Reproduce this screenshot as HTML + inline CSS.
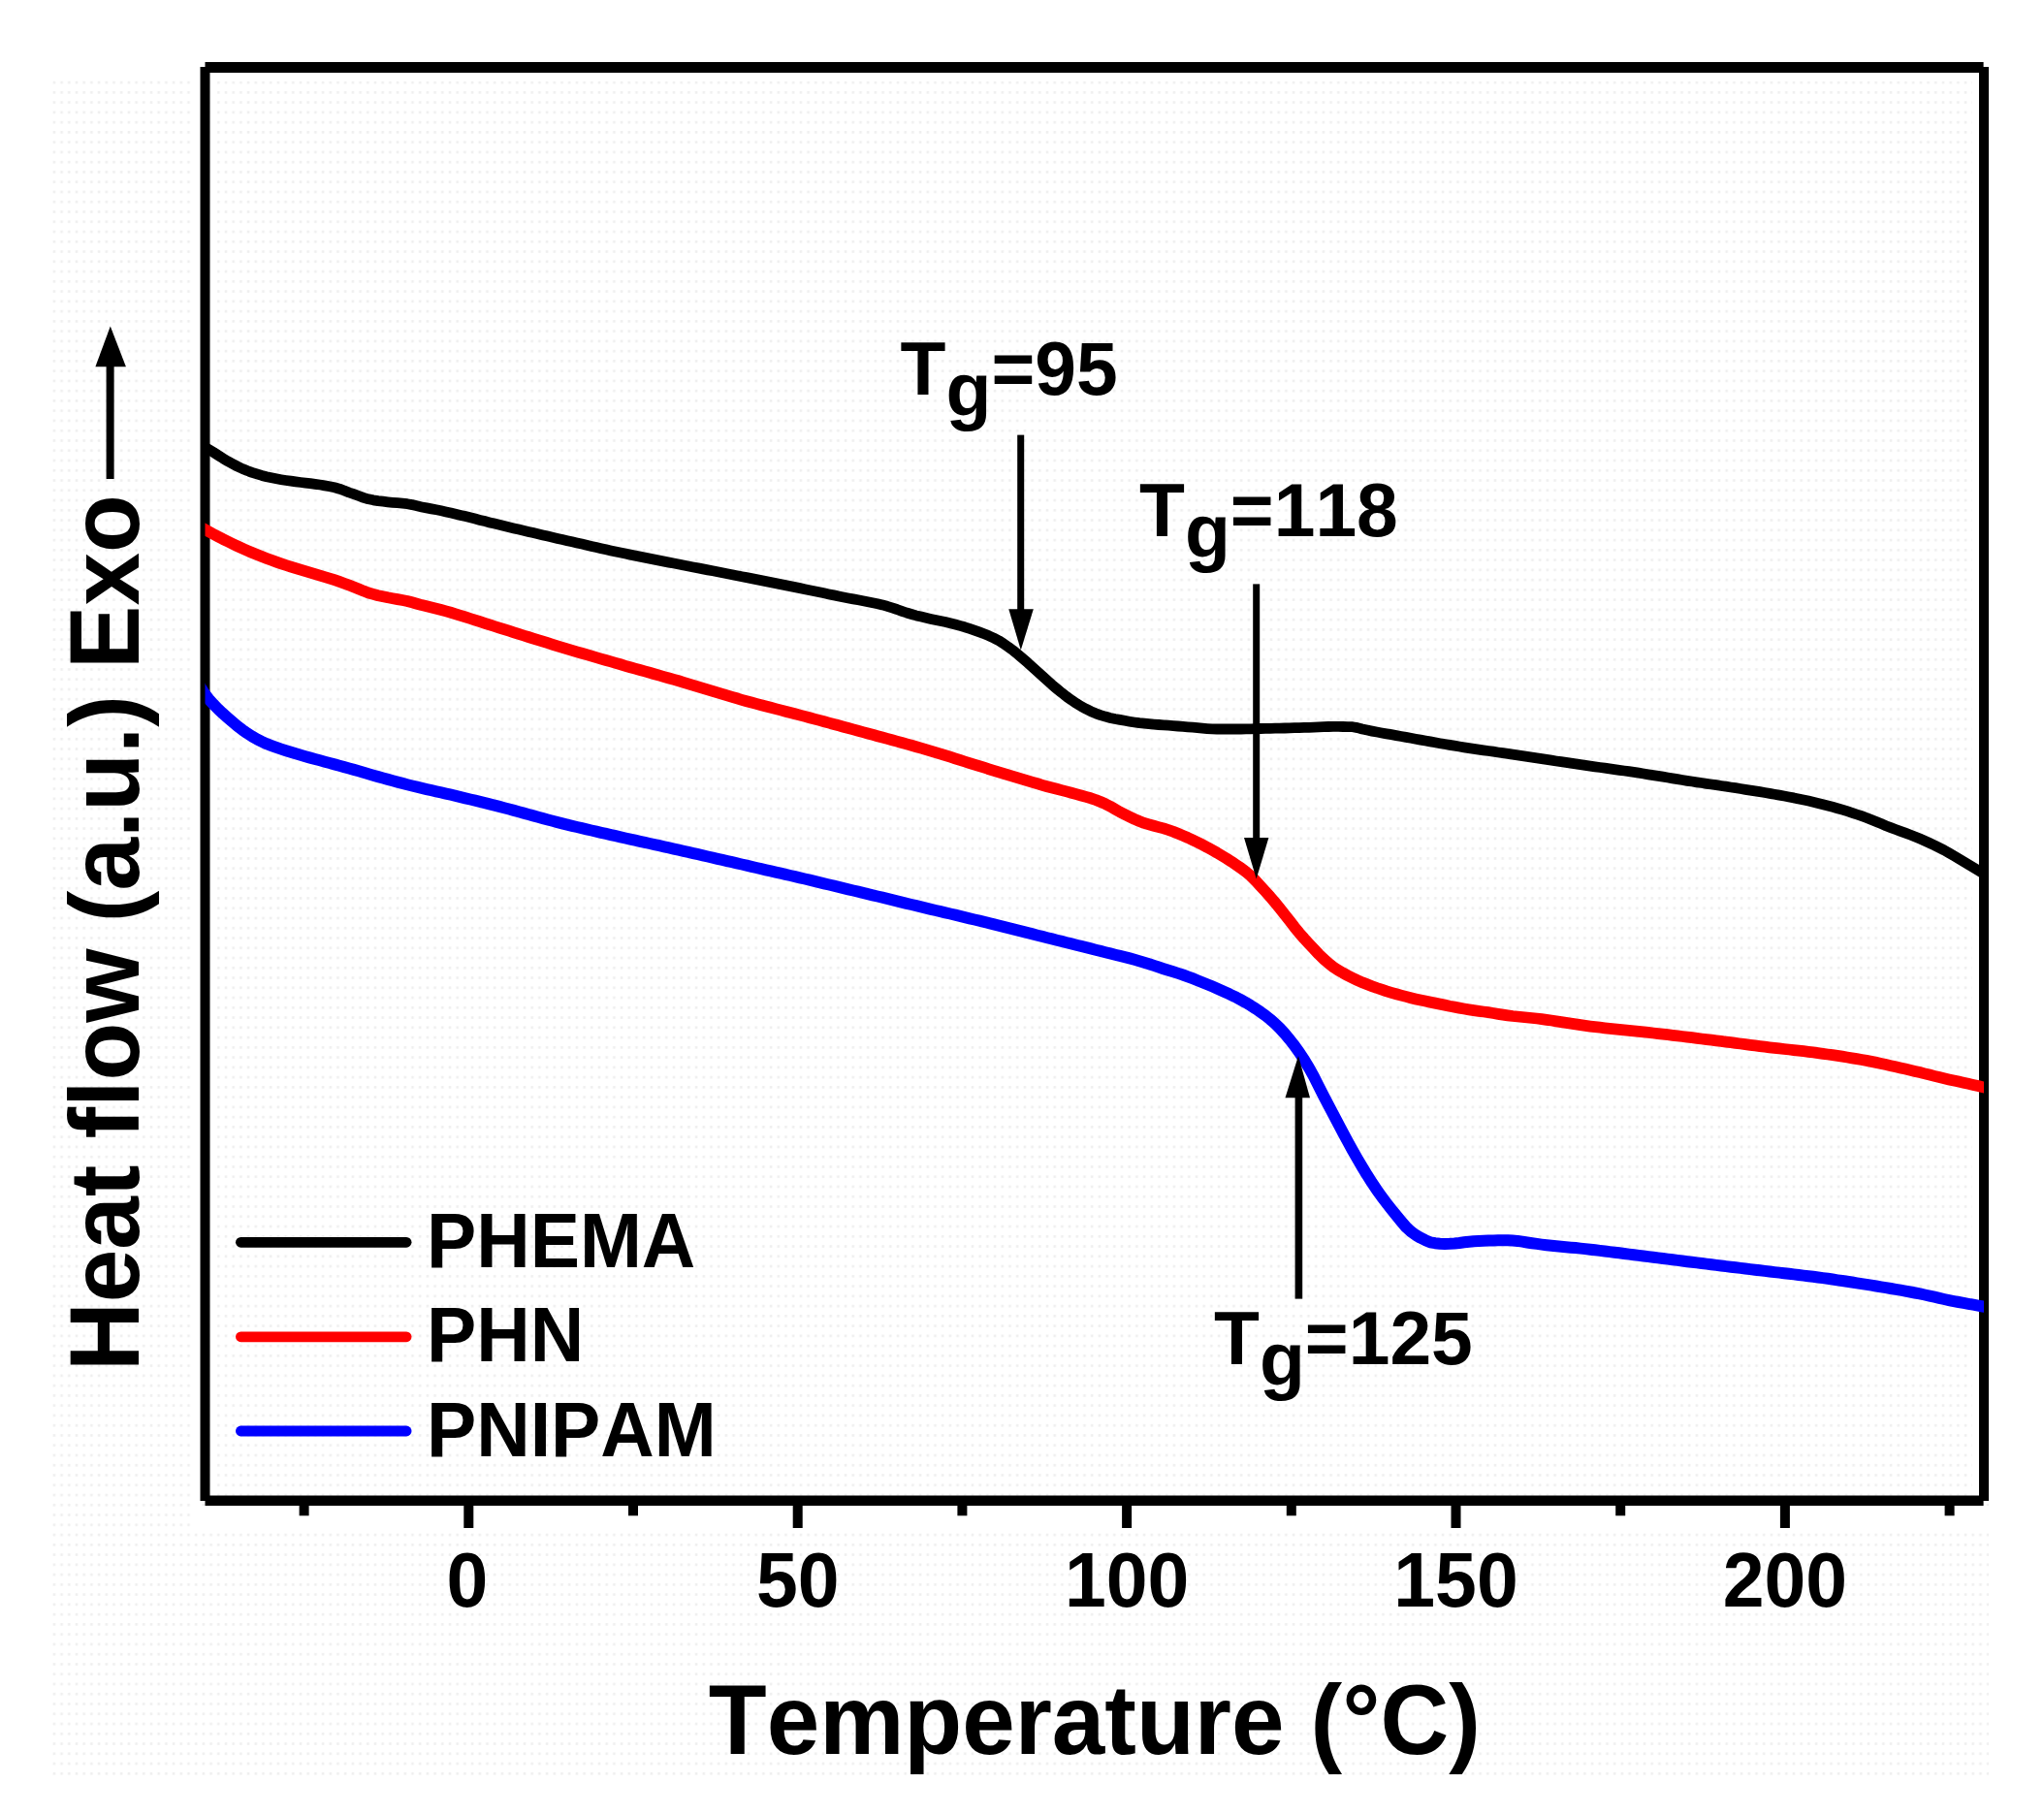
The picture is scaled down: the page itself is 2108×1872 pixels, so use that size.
<!DOCTYPE html>
<html lang="en"><head><meta charset="utf-8"><title>DSC curves</title>
<style>html,body{margin:0;padding:0;background:#fff;overflow:hidden;}svg{display:block;}text{font-family:"Liberation Sans",sans-serif;font-weight:bold;fill:#000;font-kerning:none;}</style></head><body>
<svg width="2108" height="1872" viewBox="0 0 2108 1872">
<rect x="0" y="0" width="2108" height="1872" fill="#ffffff"/>
<defs><pattern id="dither" x="52" y="80" width="7.7" height="10.26" patternUnits="userSpaceOnUse"><rect x="2.6" y="3.8" width="2.6" height="2.6" fill="#efefef"/></pattern></defs>
<rect x="52" y="77" width="1999" height="1756" fill="url(#dither)"/>
<rect x="216.5" y="75" width="1824.5" height="9" fill="#fff"/>
<rect x="216.5" y="75" width="7" height="1467.5" fill="#fff"/>
<rect x="2034" y="75" width="7" height="1467.5" fill="#fff"/>
<rect x="199.5" y="77" width="7" height="1476" fill="#fff"/>
<rect x="200" y="1553" width="1851" height="24" fill="#fff"/>
<g fill="#000">
<rect x="211.5" y="64" width="1834.1" height="11"/>
<rect x="211.5" y="1542.5" width="1834.1" height="10.5"/>
<rect x="206.5" y="69" width="10.0" height="1479"/>
<rect x="2041" y="69" width="10" height="1479"/>
<rect x="478.3" y="1552" width="10" height="24"/>
<rect x="817.7" y="1552" width="10" height="24"/>
<rect x="1157.1" y="1552" width="10" height="24"/>
<rect x="1496.5" y="1552" width="10" height="24"/>
<rect x="1835.9" y="1552" width="10" height="24"/>
<rect x="308.6" y="1552" width="10" height="11.3"/>
<rect x="648.0" y="1552" width="10" height="11.3"/>
<rect x="987.4" y="1552" width="10" height="11.3"/>
<rect x="1326.8" y="1552" width="10" height="11.3"/>
<rect x="1666.2" y="1552" width="10" height="11.3"/>
<rect x="2005.6" y="1552" width="10" height="11.3"/>
</g>
<defs><clipPath id="plot"><rect x="211.5" y="70" width="1834.5" height="1478"/></clipPath></defs>
<g clip-path="url(#plot)" fill="none" stroke-linejoin="round" stroke-linecap="butt">
<path stroke="#000000" stroke-width="10.8" d="M205.0 457.5 L210.0 460.4 L215.0 463.4 L220.0 466.4 L225.0 469.6 L230.0 472.8 L235.0 475.8 L240.0 478.5 L245.0 481.1 L250.0 483.5 L255.0 485.5 L260.0 487.3 L265.0 488.9 L270.0 490.4 L275.0 491.7 L280.0 492.8 L285.0 493.8 L290.0 494.7 L295.0 495.5 L300.0 496.2 L305.0 496.9 L310.0 497.5 L315.0 498.1 L320.0 498.6 L325.0 499.3 L330.0 500.0 L335.0 500.8 L340.0 501.7 L345.0 502.8 L350.0 504.2 L355.0 506.0 L360.0 508.0 L365.0 509.7 L370.0 511.5 L375.0 513.3 L380.0 514.8 L385.0 515.8 L390.0 516.6 L395.0 517.2 L400.0 517.8 L405.0 518.3 L410.0 518.7 L415.0 519.2 L420.0 519.7 L425.0 520.6 L430.0 521.8 L435.0 522.9 L440.0 523.9 L445.0 524.9 L450.0 525.8 L455.0 526.8 L460.0 527.9 L465.0 529.0 L470.0 530.2 L475.0 531.4 L480.0 532.6 L485.0 533.8 L490.0 535.1 L495.0 536.4 L500.0 537.6 L505.0 538.9 L510.0 540.1 L515.0 541.3 L520.0 542.5 L525.0 543.7 L530.0 544.9 L535.0 546.1 L540.0 547.2 L545.0 548.4 L550.0 549.6 L555.0 550.7 L560.0 551.9 L565.0 553.1 L570.0 554.2 L575.0 555.4 L580.0 556.5 L585.0 557.7 L590.0 558.8 L595.0 560.0 L600.0 561.1 L605.0 562.3 L610.0 563.4 L615.0 564.5 L620.0 565.7 L625.0 566.8 L630.0 567.9 L635.0 569.0 L640.0 570.0 L645.0 571.1 L650.0 572.1 L655.0 573.1 L660.0 574.1 L665.0 575.1 L670.0 576.1 L675.0 577.1 L680.0 578.1 L685.0 579.1 L690.0 580.1 L695.0 581.0 L700.0 582.0 L705.0 583.0 L710.0 584.0 L715.0 585.0 L720.0 585.9 L725.0 586.9 L730.0 587.9 L735.0 588.8 L740.0 589.8 L745.0 590.8 L750.0 591.7 L755.0 592.7 L760.0 593.7 L765.0 594.7 L770.0 595.6 L775.0 596.6 L780.0 597.6 L785.0 598.6 L790.0 599.6 L795.0 600.6 L800.0 601.6 L805.0 602.6 L810.0 603.6 L815.0 604.6 L820.0 605.6 L825.0 606.6 L830.0 607.7 L835.0 608.7 L840.0 609.7 L845.0 610.8 L850.0 611.8 L855.0 612.9 L860.0 613.9 L865.0 615.0 L870.0 616.0 L875.0 617.0 L880.0 617.9 L885.0 618.8 L890.0 619.7 L895.0 620.7 L900.0 621.7 L905.0 622.7 L910.0 623.9 L915.0 625.3 L920.0 626.9 L925.0 628.5 L930.0 630.3 L935.0 632.0 L940.0 633.5 L945.0 634.9 L950.0 636.1 L955.0 637.3 L960.0 638.4 L965.0 639.5 L970.0 640.5 L975.0 641.5 L980.0 642.7 L985.0 644.0 L990.0 645.4 L995.0 646.8 L1000.0 648.4 L1005.0 650.1 L1010.0 651.9 L1015.0 653.8 L1020.0 655.8 L1025.0 658.1 L1030.0 660.7 L1035.0 663.8 L1040.0 667.3 L1045.0 671.0 L1050.0 675.1 L1055.0 679.4 L1060.0 683.7 L1065.0 688.2 L1070.0 692.7 L1075.0 697.3 L1080.0 701.8 L1085.0 706.3 L1090.0 710.5 L1095.0 714.6 L1100.0 718.5 L1105.0 722.1 L1110.0 725.4 L1115.0 728.5 L1120.0 731.2 L1125.0 733.7 L1130.0 735.8 L1135.0 737.6 L1140.0 739.1 L1145.0 740.4 L1150.0 741.5 L1155.0 742.4 L1160.0 743.3 L1165.0 744.2 L1170.0 745.0 L1175.0 745.7 L1180.0 746.2 L1185.0 746.7 L1190.0 747.1 L1195.0 747.5 L1200.0 747.8 L1205.0 748.2 L1210.0 748.6 L1215.0 749.0 L1220.0 749.4 L1225.0 749.8 L1230.0 750.2 L1235.0 750.7 L1240.0 751.2 L1245.0 751.6 L1250.0 751.9 L1255.0 752.0 L1260.0 752.0 L1265.0 752.0 L1270.0 752.0 L1275.0 752.0 L1280.0 752.0 L1285.0 751.9 L1290.0 751.8 L1295.0 751.6 L1300.0 751.5 L1305.0 751.4 L1310.0 751.3 L1315.0 751.2 L1320.0 751.1 L1325.0 751.0 L1330.0 750.8 L1335.0 750.7 L1340.0 750.6 L1345.0 750.4 L1350.0 750.3 L1355.0 750.1 L1360.0 749.9 L1365.0 749.7 L1370.0 749.5 L1375.0 749.4 L1380.0 749.4 L1385.0 749.5 L1390.0 749.6 L1395.0 749.7 L1400.0 750.6 L1405.0 752.0 L1410.0 753.1 L1415.0 754.1 L1420.0 755.0 L1425.0 756.0 L1430.0 756.9 L1435.0 757.7 L1440.0 758.6 L1445.0 759.5 L1450.0 760.4 L1455.0 761.3 L1460.0 762.2 L1465.0 763.1 L1470.0 764.0 L1475.0 764.9 L1480.0 765.8 L1485.0 766.7 L1490.0 767.5 L1495.0 768.4 L1500.0 769.2 L1505.0 770.0 L1510.0 770.8 L1515.0 771.6 L1520.0 772.3 L1525.0 773.1 L1530.0 773.8 L1535.0 774.5 L1540.0 775.2 L1545.0 776.0 L1550.0 776.7 L1555.0 777.4 L1560.0 778.2 L1565.0 778.9 L1570.0 779.7 L1575.0 780.4 L1580.0 781.2 L1585.0 781.9 L1590.0 782.7 L1595.0 783.4 L1600.0 784.2 L1605.0 785.0 L1610.0 785.7 L1615.0 786.4 L1620.0 787.2 L1625.0 787.9 L1630.0 788.6 L1635.0 789.4 L1640.0 790.1 L1645.0 790.8 L1650.0 791.5 L1655.0 792.2 L1660.0 792.9 L1665.0 793.6 L1670.0 794.3 L1675.0 795.0 L1680.0 795.7 L1685.0 796.4 L1690.0 797.2 L1695.0 798.0 L1700.0 798.8 L1705.0 799.6 L1710.0 800.4 L1715.0 801.2 L1720.0 802.0 L1725.0 802.9 L1730.0 803.7 L1735.0 804.5 L1740.0 805.3 L1745.0 806.0 L1750.0 806.8 L1755.0 807.5 L1760.0 808.3 L1765.0 809.0 L1770.0 809.7 L1775.0 810.5 L1780.0 811.2 L1785.0 812.0 L1790.0 812.7 L1795.0 813.5 L1800.0 814.3 L1805.0 815.1 L1810.0 815.9 L1815.0 816.7 L1820.0 817.5 L1825.0 818.3 L1830.0 819.2 L1835.0 820.1 L1840.0 821.0 L1845.0 822.0 L1850.0 822.9 L1855.0 824.0 L1860.0 825.0 L1865.0 826.1 L1870.0 827.3 L1875.0 828.4 L1880.0 829.7 L1885.0 831.0 L1890.0 832.3 L1895.0 833.7 L1900.0 835.2 L1905.0 836.7 L1910.0 838.3 L1915.0 840.0 L1920.0 841.7 L1925.0 843.5 L1930.0 845.5 L1935.0 847.6 L1940.0 849.6 L1945.0 851.7 L1950.0 853.6 L1955.0 855.5 L1960.0 857.3 L1965.0 859.1 L1970.0 861.0 L1975.0 863.0 L1980.0 865.1 L1985.0 867.3 L1990.0 869.5 L1995.0 871.8 L2000.0 874.3 L2005.0 876.9 L2010.0 879.7 L2015.0 882.6 L2020.0 885.6 L2025.0 888.6 L2030.0 891.6 L2035.0 894.6 L2040.0 897.6 L2045.0 900.7 L2050.0 903.8 L2055.0 907.0"/>
<path stroke="#ff0000" stroke-width="11.8" d="M205.0 542.5 L210.0 545.4 L215.0 548.2 L220.0 550.9 L225.0 553.5 L230.0 556.1 L235.0 558.5 L240.0 561.0 L245.0 563.4 L250.0 565.7 L255.0 567.9 L260.0 570.0 L265.0 572.0 L270.0 574.0 L275.0 575.9 L280.0 577.8 L285.0 579.6 L290.0 581.3 L295.0 583.0 L300.0 584.6 L305.0 586.2 L310.0 587.7 L315.0 589.2 L320.0 590.7 L325.0 592.2 L330.0 593.7 L335.0 595.1 L340.0 596.6 L345.0 598.2 L350.0 599.9 L355.0 601.7 L360.0 603.6 L365.0 605.5 L370.0 607.5 L375.0 609.6 L380.0 611.5 L385.0 612.9 L390.0 614.2 L395.0 615.2 L400.0 616.3 L405.0 617.2 L410.0 618.1 L415.0 619.0 L420.0 620.0 L425.0 621.3 L430.0 622.7 L435.0 624.1 L440.0 625.3 L445.0 626.5 L450.0 627.7 L455.0 629.0 L460.0 630.4 L465.0 631.8 L470.0 633.3 L475.0 634.8 L480.0 636.4 L485.0 638.0 L490.0 639.6 L495.0 641.2 L500.0 642.8 L505.0 644.4 L510.0 646.0 L515.0 647.6 L520.0 649.2 L525.0 650.7 L530.0 652.3 L535.0 653.9 L540.0 655.5 L545.0 657.0 L550.0 658.6 L555.0 660.1 L560.0 661.7 L565.0 663.2 L570.0 664.8 L575.0 666.3 L580.0 667.8 L585.0 669.3 L590.0 670.8 L595.0 672.3 L600.0 673.7 L605.0 675.2 L610.0 676.7 L615.0 678.1 L620.0 679.6 L625.0 681.0 L630.0 682.4 L635.0 683.9 L640.0 685.3 L645.0 686.8 L650.0 688.2 L655.0 689.6 L660.0 691.0 L665.0 692.4 L670.0 693.8 L675.0 695.2 L680.0 696.6 L685.0 698.1 L690.0 699.5 L695.0 700.9 L700.0 702.3 L705.0 703.8 L710.0 705.3 L715.0 706.8 L720.0 708.3 L725.0 709.8 L730.0 711.3 L735.0 712.9 L740.0 714.4 L745.0 715.9 L750.0 717.4 L755.0 718.9 L760.0 720.3 L765.0 721.8 L770.0 723.2 L775.0 724.5 L780.0 725.9 L785.0 727.2 L790.0 728.5 L795.0 729.8 L800.0 731.1 L805.0 732.4 L810.0 733.7 L815.0 735.0 L820.0 736.3 L825.0 737.6 L830.0 738.9 L835.0 740.3 L840.0 741.6 L845.0 742.9 L850.0 744.3 L855.0 745.6 L860.0 747.0 L865.0 748.3 L870.0 749.7 L875.0 751.0 L880.0 752.4 L885.0 753.7 L890.0 755.1 L895.0 756.5 L900.0 757.8 L905.0 759.2 L910.0 760.5 L915.0 761.9 L920.0 763.3 L925.0 764.6 L930.0 766.0 L935.0 767.4 L940.0 768.8 L945.0 770.2 L950.0 771.6 L955.0 773.1 L960.0 774.6 L965.0 776.1 L970.0 777.6 L975.0 779.2 L980.0 780.7 L985.0 782.3 L990.0 783.9 L995.0 785.5 L1000.0 787.1 L1005.0 788.6 L1010.0 790.2 L1015.0 791.7 L1020.0 793.3 L1025.0 794.8 L1030.0 796.3 L1035.0 797.9 L1040.0 799.4 L1045.0 800.9 L1050.0 802.4 L1055.0 803.9 L1060.0 805.4 L1065.0 806.9 L1070.0 808.3 L1075.0 809.8 L1080.0 811.2 L1085.0 812.5 L1090.0 813.8 L1095.0 815.1 L1100.0 816.4 L1105.0 817.7 L1110.0 819.1 L1115.0 820.5 L1120.0 821.9 L1125.0 823.3 L1130.0 825.0 L1135.0 827.0 L1140.0 829.2 L1145.0 831.7 L1150.0 834.6 L1155.0 837.5 L1160.0 840.0 L1165.0 842.5 L1170.0 844.9 L1175.0 847.0 L1180.0 848.9 L1185.0 850.4 L1190.0 851.8 L1195.0 853.1 L1200.0 854.4 L1205.0 856.0 L1210.0 857.8 L1215.0 859.8 L1220.0 861.9 L1225.0 864.0 L1230.0 866.3 L1235.0 868.7 L1240.0 871.3 L1245.0 873.9 L1250.0 876.7 L1255.0 879.5 L1260.0 882.5 L1265.0 885.5 L1270.0 888.7 L1275.0 892.1 L1280.0 895.5 L1285.0 899.3 L1290.0 903.5 L1295.0 908.5 L1300.0 913.9 L1305.0 919.4 L1310.0 925.0 L1315.0 930.9 L1320.0 937.0 L1325.0 943.3 L1330.0 949.7 L1335.0 956.2 L1340.0 962.3 L1345.0 968.0 L1350.0 973.4 L1355.0 978.8 L1360.0 984.1 L1365.0 989.0 L1370.0 993.4 L1375.0 997.3 L1380.0 1000.6 L1385.0 1003.5 L1390.0 1006.2 L1395.0 1008.7 L1400.0 1011.1 L1405.0 1013.3 L1410.0 1015.3 L1415.0 1017.2 L1420.0 1019.0 L1425.0 1020.6 L1430.0 1022.3 L1435.0 1023.8 L1440.0 1025.2 L1445.0 1026.6 L1450.0 1027.9 L1455.0 1029.2 L1460.0 1030.4 L1465.0 1031.5 L1470.0 1032.6 L1475.0 1033.6 L1480.0 1034.6 L1485.0 1035.6 L1490.0 1036.6 L1495.0 1037.7 L1500.0 1038.6 L1505.0 1039.6 L1510.0 1040.5 L1515.0 1041.3 L1520.0 1042.1 L1525.0 1042.8 L1530.0 1043.5 L1535.0 1044.2 L1540.0 1045.0 L1545.0 1045.8 L1550.0 1046.6 L1555.0 1047.3 L1560.0 1048.0 L1565.0 1048.5 L1570.0 1049.0 L1575.0 1049.5 L1580.0 1050.0 L1585.0 1050.5 L1590.0 1051.1 L1595.0 1051.8 L1600.0 1052.5 L1605.0 1053.3 L1610.0 1054.1 L1615.0 1054.9 L1620.0 1055.6 L1625.0 1056.4 L1630.0 1057.2 L1635.0 1057.9 L1640.0 1058.6 L1645.0 1059.2 L1650.0 1059.7 L1655.0 1060.3 L1660.0 1060.8 L1665.0 1061.3 L1670.0 1061.9 L1675.0 1062.4 L1680.0 1062.9 L1685.0 1063.4 L1690.0 1063.9 L1695.0 1064.4 L1700.0 1064.9 L1705.0 1065.5 L1710.0 1066.1 L1715.0 1066.7 L1720.0 1067.2 L1725.0 1067.8 L1730.0 1068.4 L1735.0 1069.0 L1740.0 1069.6 L1745.0 1070.2 L1750.0 1070.8 L1755.0 1071.5 L1760.0 1072.1 L1765.0 1072.7 L1770.0 1073.3 L1775.0 1073.9 L1780.0 1074.6 L1785.0 1075.2 L1790.0 1075.9 L1795.0 1076.5 L1800.0 1077.2 L1805.0 1077.8 L1810.0 1078.4 L1815.0 1079.1 L1820.0 1079.7 L1825.0 1080.3 L1830.0 1080.9 L1835.0 1081.4 L1840.0 1082.0 L1845.0 1082.5 L1850.0 1083.1 L1855.0 1083.6 L1860.0 1084.2 L1865.0 1084.8 L1870.0 1085.4 L1875.0 1086.1 L1880.0 1086.8 L1885.0 1087.5 L1890.0 1088.2 L1895.0 1088.9 L1900.0 1089.7 L1905.0 1090.5 L1910.0 1091.3 L1915.0 1092.1 L1920.0 1093.0 L1925.0 1093.9 L1930.0 1094.9 L1935.0 1095.9 L1940.0 1097.0 L1945.0 1098.1 L1950.0 1099.2 L1955.0 1100.3 L1960.0 1101.5 L1965.0 1102.6 L1970.0 1103.7 L1975.0 1104.9 L1980.0 1106.1 L1985.0 1107.4 L1990.0 1108.6 L1995.0 1109.9 L2000.0 1111.1 L2005.0 1112.2 L2010.0 1113.4 L2015.0 1114.5 L2020.0 1115.6 L2025.0 1116.7 L2030.0 1117.8 L2035.0 1118.9 L2040.0 1120.1 L2045.0 1121.3 L2050.0 1122.5 L2055.0 1123.7"/>
<path stroke="#0000ff" stroke-width="12" d="M205.0 706.0 L210.0 714.1 L215.0 720.7 L220.0 726.3 L225.0 731.4 L230.0 736.1 L235.0 740.5 L240.0 744.8 L245.0 749.0 L250.0 752.8 L255.0 756.3 L260.0 759.5 L265.0 762.4 L270.0 764.9 L275.0 767.2 L280.0 769.1 L285.0 770.9 L290.0 772.6 L295.0 774.2 L300.0 775.8 L305.0 777.3 L310.0 778.7 L315.0 780.2 L320.0 781.6 L325.0 783.0 L330.0 784.3 L335.0 785.7 L340.0 787.0 L345.0 788.4 L350.0 789.8 L355.0 791.1 L360.0 792.5 L365.0 793.9 L370.0 795.3 L375.0 796.8 L380.0 798.2 L385.0 799.7 L390.0 801.1 L395.0 802.5 L400.0 803.9 L405.0 805.3 L410.0 806.6 L415.0 807.9 L420.0 809.2 L425.0 810.5 L430.0 811.7 L435.0 812.9 L440.0 814.1 L445.0 815.2 L450.0 816.3 L455.0 817.4 L460.0 818.6 L465.0 819.7 L470.0 820.9 L475.0 822.1 L480.0 823.3 L485.0 824.5 L490.0 825.7 L495.0 826.9 L500.0 828.1 L505.0 829.4 L510.0 830.6 L515.0 831.9 L520.0 833.2 L525.0 834.5 L530.0 835.9 L535.0 837.2 L540.0 838.6 L545.0 840.0 L550.0 841.4 L555.0 842.8 L560.0 844.1 L565.0 845.5 L570.0 846.8 L575.0 848.1 L580.0 849.4 L585.0 850.6 L590.0 851.8 L595.0 853.0 L600.0 854.2 L605.0 855.4 L610.0 856.5 L615.0 857.7 L620.0 858.8 L625.0 859.9 L630.0 861.1 L635.0 862.2 L640.0 863.3 L645.0 864.5 L650.0 865.6 L655.0 866.7 L660.0 867.8 L665.0 868.9 L670.0 870.0 L675.0 871.1 L680.0 872.2 L685.0 873.3 L690.0 874.4 L695.0 875.6 L700.0 876.7 L705.0 877.8 L710.0 878.9 L715.0 880.1 L720.0 881.2 L725.0 882.3 L730.0 883.5 L735.0 884.6 L740.0 885.8 L745.0 886.9 L750.0 888.1 L755.0 889.2 L760.0 890.4 L765.0 891.5 L770.0 892.7 L775.0 893.8 L780.0 895.0 L785.0 896.1 L790.0 897.3 L795.0 898.4 L800.0 899.6 L805.0 900.7 L810.0 901.9 L815.0 903.0 L820.0 904.2 L825.0 905.4 L830.0 906.5 L835.0 907.7 L840.0 908.9 L845.0 910.1 L850.0 911.3 L855.0 912.5 L860.0 913.7 L865.0 914.9 L870.0 916.1 L875.0 917.3 L880.0 918.5 L885.0 919.7 L890.0 920.9 L895.0 922.1 L900.0 923.3 L905.0 924.5 L910.0 925.7 L915.0 926.9 L920.0 928.1 L925.0 929.3 L930.0 930.6 L935.0 931.8 L940.0 933.0 L945.0 934.2 L950.0 935.4 L955.0 936.6 L960.0 937.8 L965.0 939.0 L970.0 940.2 L975.0 941.4 L980.0 942.5 L985.0 943.7 L990.0 944.9 L995.0 946.1 L1000.0 947.3 L1005.0 948.5 L1010.0 949.7 L1015.0 950.9 L1020.0 952.1 L1025.0 953.4 L1030.0 954.6 L1035.0 955.9 L1040.0 957.1 L1045.0 958.4 L1050.0 959.6 L1055.0 960.9 L1060.0 962.1 L1065.0 963.4 L1070.0 964.7 L1075.0 965.9 L1080.0 967.2 L1085.0 968.4 L1090.0 969.7 L1095.0 970.9 L1100.0 972.2 L1105.0 973.4 L1110.0 974.7 L1115.0 975.9 L1120.0 977.1 L1125.0 978.4 L1130.0 979.7 L1135.0 980.9 L1140.0 982.2 L1145.0 983.4 L1150.0 984.7 L1155.0 985.9 L1160.0 987.1 L1165.0 988.4 L1170.0 989.8 L1175.0 991.2 L1180.0 992.7 L1185.0 994.2 L1190.0 995.9 L1195.0 997.5 L1200.0 999.2 L1205.0 1000.8 L1210.0 1002.3 L1215.0 1003.9 L1220.0 1005.5 L1225.0 1007.3 L1230.0 1009.2 L1235.0 1011.2 L1240.0 1013.2 L1245.0 1015.2 L1250.0 1017.3 L1255.0 1019.5 L1260.0 1021.7 L1265.0 1023.9 L1270.0 1026.3 L1275.0 1028.7 L1280.0 1031.4 L1285.0 1034.2 L1290.0 1037.2 L1295.0 1040.4 L1300.0 1043.8 L1305.0 1047.4 L1310.0 1051.4 L1315.0 1055.7 L1320.0 1060.6 L1325.0 1066.1 L1330.0 1072.1 L1335.0 1078.5 L1340.0 1085.5 L1345.0 1093.1 L1350.0 1101.4 L1355.0 1110.4 L1360.0 1120.4 L1365.0 1130.2 L1370.0 1139.8 L1375.0 1149.3 L1380.0 1158.8 L1385.0 1168.3 L1390.0 1177.5 L1395.0 1186.6 L1400.0 1195.4 L1405.0 1203.9 L1410.0 1212.1 L1415.0 1219.9 L1420.0 1227.3 L1425.0 1234.4 L1430.0 1241.0 L1435.0 1247.4 L1440.0 1253.6 L1445.0 1259.6 L1450.0 1265.5 L1455.0 1270.1 L1460.0 1273.8 L1465.0 1276.7 L1470.0 1279.2 L1475.0 1281.3 L1480.0 1282.2 L1485.0 1282.7 L1490.0 1282.9 L1495.0 1282.8 L1500.0 1282.5 L1505.0 1282.0 L1510.0 1281.3 L1515.0 1280.7 L1520.0 1280.2 L1525.0 1279.9 L1530.0 1279.7 L1535.0 1279.5 L1540.0 1279.4 L1545.0 1279.3 L1550.0 1279.2 L1555.0 1279.3 L1560.0 1279.6 L1565.0 1279.9 L1570.0 1280.7 L1575.0 1281.5 L1580.0 1282.2 L1585.0 1282.9 L1590.0 1283.6 L1595.0 1284.2 L1600.0 1284.8 L1605.0 1285.3 L1610.0 1285.8 L1615.0 1286.2 L1620.0 1286.7 L1625.0 1287.1 L1630.0 1287.6 L1635.0 1288.1 L1640.0 1288.7 L1645.0 1289.3 L1650.0 1289.9 L1655.0 1290.5 L1660.0 1291.1 L1665.0 1291.7 L1670.0 1292.3 L1675.0 1293.0 L1680.0 1293.6 L1685.0 1294.2 L1690.0 1294.9 L1695.0 1295.5 L1700.0 1296.1 L1705.0 1296.7 L1710.0 1297.4 L1715.0 1298.0 L1720.0 1298.6 L1725.0 1299.3 L1730.0 1299.9 L1735.0 1300.5 L1740.0 1301.2 L1745.0 1301.8 L1750.0 1302.4 L1755.0 1303.0 L1760.0 1303.6 L1765.0 1304.3 L1770.0 1304.9 L1775.0 1305.5 L1780.0 1306.1 L1785.0 1306.7 L1790.0 1307.3 L1795.0 1307.9 L1800.0 1308.5 L1805.0 1309.1 L1810.0 1309.7 L1815.0 1310.3 L1820.0 1310.9 L1825.0 1311.5 L1830.0 1312.1 L1835.0 1312.6 L1840.0 1313.2 L1845.0 1313.8 L1850.0 1314.4 L1855.0 1315.0 L1860.0 1315.6 L1865.0 1316.2 L1870.0 1316.8 L1875.0 1317.5 L1880.0 1318.1 L1885.0 1318.8 L1890.0 1319.5 L1895.0 1320.3 L1900.0 1321.0 L1905.0 1321.7 L1910.0 1322.5 L1915.0 1323.3 L1920.0 1324.1 L1925.0 1324.9 L1930.0 1325.7 L1935.0 1326.5 L1940.0 1327.3 L1945.0 1328.1 L1950.0 1329.0 L1955.0 1329.8 L1960.0 1330.7 L1965.0 1331.6 L1970.0 1332.5 L1975.0 1333.5 L1980.0 1334.4 L1985.0 1335.5 L1990.0 1336.6 L1995.0 1337.7 L2000.0 1338.9 L2005.0 1340.0 L2010.0 1341.1 L2015.0 1342.1 L2020.0 1343.0 L2025.0 1343.9 L2030.0 1344.8 L2035.0 1345.7 L2040.0 1346.6 L2045.0 1347.5 L2050.0 1348.5 L2055.0 1349.6"/>
</g>
<g fill="#000">
<rect x="1049.2" y="448.6" width="7" height="185"/>
<polygon points="1040.3,628.2 1065.8,628.2 1052.8,670.5"/>
<rect x="1292.2" y="602.4" width="7" height="266"/>
<polygon points="1283,863.9 1308.4,863.9 1295.7,906.5"/>
<rect x="1335.6" y="1128" width="7.6" height="211.6"/>
<polygon points="1325.5,1132.2 1351,1132.2 1339,1088.9"/>
<rect x="109.6" y="374" width="8" height="120"/>
<polygon points="98.4,378.2 129.9,378.2 113.8,336.4"/>
</g>
<g fill="none" stroke-width="10.8" stroke-linecap="round">
<line x1="248.4" y1="1281.3" x2="419.1" y2="1281.3" stroke="#000"/>
<line x1="248.4" y1="1378.8" x2="419.1" y2="1378.8" stroke="#f00"/>
<line x1="248.4" y1="1476" x2="419.1" y2="1476" stroke="#00f"/>
</g>
<text transform="translate(440.0 1307.0) scale(1 1.028)" font-size="76.8" text-anchor="start">PHEMA</text>
<text transform="translate(440.0 1404.4) scale(1 1.028)" font-size="76.8" text-anchor="start">PHN</text>
<text transform="translate(440.0 1501.6) scale(1 1.028)" font-size="76.8" text-anchor="start">PNIPAM</text>
<text transform="translate(928.6 407.4) scale(1 1.02)" font-size="76.8" text-anchor="start">T<tspan dy="21.5">g</tspan><tspan dy="-21.5">=95</tspan></text>
<text transform="translate(1175.0 553.4) scale(1 1.02)" font-size="76.8" text-anchor="start">T<tspan dy="21.5">g</tspan><tspan dy="-21.5">=118</tspan></text>
<text transform="translate(1252.0 1406.9) scale(1 1.02)" font-size="76.8" text-anchor="start">T<tspan dy="21.5">g</tspan><tspan dy="-21.5">=125</tspan></text>
<text transform="translate(481.8 1657.4) scale(1 1.025)" font-size="77" text-anchor="middle">0</text>
<text transform="translate(822.7 1657.4) scale(1 1.025)" font-size="77" text-anchor="middle">50</text>
<text transform="translate(1162.1 1657.4) scale(1 1.025)" font-size="77" text-anchor="middle">100</text>
<text transform="translate(1501.5 1657.4) scale(1 1.025)" font-size="77" text-anchor="middle">150</text>
<text transform="translate(1840.9 1657.4) scale(1 1.025)" font-size="77" text-anchor="middle">200</text>
<text transform="translate(1128.8 1808.8) scale(1 1.04)" font-size="98" text-anchor="middle">Temperature (°C)</text>
<text transform="translate(142.6 1414) rotate(-90) scale(1 1.04)" font-size="98" text-anchor="start">Heat flow (a.u.) Exo</text>
</svg></body></html>
